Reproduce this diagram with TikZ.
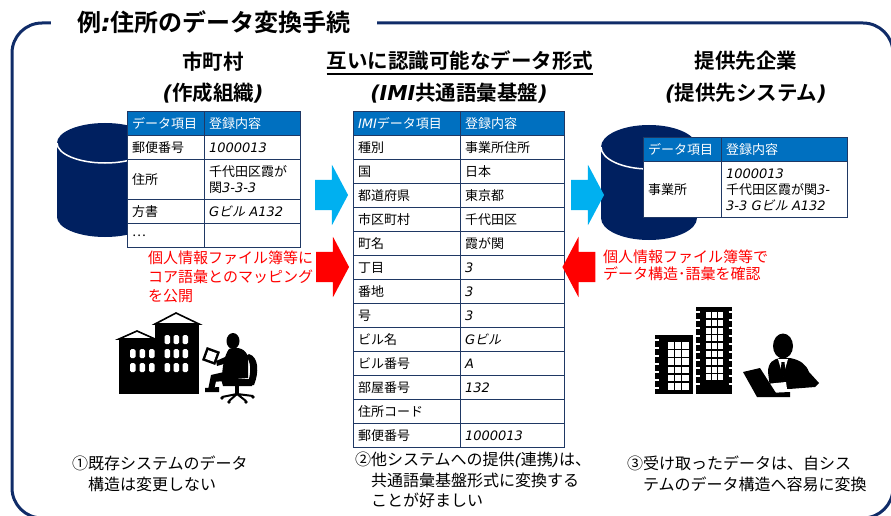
\documentclass[tikz,border=0pt]{standalone}
\usepackage{fontspec}
\setmainfont{Noto Sans CJK JP}[
  BoldFont={Noto Sans CJK JP Bold},
  ItalicFont={Noto Sans CJK JP},
  ItalicFeatures={FakeSlant=0.2},
  BoldItalicFont={Noto Sans CJK JP Bold},
  BoldItalicFeatures={FakeSlant=0.2}]
\newfontfamily\dvsans{DejaVu Sans}
\usetikzlibrary{shapes.arrows}

\definecolor{navy}{RGB}{0,32,96}
\definecolor{frameblue}{RGB}{16,44,104}
\definecolor{tblline}{RGB}{31,56,100}
\definecolor{hdrblue}{RGB}{0,112,192}
\definecolor{arrowblue}{RGB}{0,176,240}
\definecolor{arrowred}{RGB}{255,0,0}

% Latin text set in an oblique sans
\newcommand\lit[1]{{\dvsans\itshape #1}}
% table cell: style, name, x, y (north west), width, height, text
\newcommand\tcell[7]{%
  \pgfmathsetmacro\tcw{#5-9}%
  \node[#1, minimum width=#5pt, minimum height=#6pt, text width=\tcw pt] (#2) at (#3,#4) {#7};}

\begin{document}
\begin{tikzpicture}[x=1pt,y=-1pt,
  frame/.style={draw=frameblue, line width=3pt, rounded corners=30pt},
  ttl/.style={fill=white, inner xsep=26pt, inner ysep=2pt, font=\bfseries\fontsize{24}{28}\selectfont},
  hd/.style={font=\bfseries\fontsize{20.5}{24}\selectfont, inner sep=0pt},
  tcellbase/.style={rectangle, anchor=north west, draw=tblline, line width=1.1pt,
    inner xsep=4.5pt, inner ysep=0pt, align=left, font=\fontsize{13}{16}\selectfont},
  tbody/.style={tcellbase, fill=white, text=black},
  thead/.style={tcellbase, fill=hdrblue, text=white},
  redtxt/.style={anchor=west, inner sep=0pt, align=left, text=arrowred},
  btxt/.style={anchor=west, inner sep=0pt, align=left, font=\fontsize{16}{20.5}\selectfont},
  blkarrow/.style={single arrow, draw=none, minimum width=60pt, minimum height=33pt,
    single arrow head extend=15pt, single arrow tip angle=124, inner xsep=0pt, inner ysep=15pt},
  cyl/.style={fill=navy},
  cylrim/.style={draw=white, line width=1.5pt},
  win/.style={fill=white}
]
\useasboundingbox (0,0) rectangle (891,516);

% outer frame and title
\draw[frame] (12,23) rectangle (893,518);
\node[ttl] (title) at (214,22) {例\lit{:}住所のデータ変換手続};

% column headings
\node[hd] (h1a) at (213,62) {市町村};
\node[hd] (h1b) at (213,93) {\lit{(}作成組織\lit{)}};
\node[hd] (h2a) at (460,61) {互いに認識可能なデータ形式};
\draw[line width=1.4pt] ([yshift=-3pt]h2a.south west) -- ([yshift=-3pt]h2a.south east);
\node[hd] (h2b) at (459,93) {\lit{(IMI}共通語彙基盤\lit{)}};
\node[hd] (h3a) at (746,61) {提供先企業};
\node[hd] (h3b) at (746,93) {\lit{(}提供先システム\lit{)}};

% database cylinders
\fill[cyl] (57,143) -- (57,217) arc[start angle=180, end angle=0, x radius=48, y radius=20]
  -- (153,143) arc[start angle=0, end angle=-180, x radius=48, y radius=20] -- cycle;
\draw[cylrim] (57,143) arc[start angle=180, end angle=0, x radius=48, y radius=20];
\fill[cyl] (601,147) -- (601,218) arc[start angle=180, end angle=0, x radius=48, y radius=22]
  -- (697,147) arc[start angle=0, end angle=-180, x radius=48, y radius=22] -- cycle;
\draw[cylrim] (601,147) arc[start angle=180, end angle=0, x radius=48, y radius=22];

% municipality table
\tcell{thead}{La0}{127}{111}{77}{24}{データ項目}
\tcell{thead}{Lb0}{204}{111}{96}{24}{登録内容}
\tcell{tbody}{La1}{127}{135}{77}{24}{郵便番号}
\tcell{tbody}{Lb1}{204}{135}{96}{24}{\lit{1000013}}
\tcell{tbody}{La2}{127}{159}{77}{40}{住所}
\tcell{tbody}{Lb2}{204}{159}{96}{40}{千代田区霞が\\関\lit{3-3-3}}
\tcell{tbody}{La3}{127}{199}{77}{24}{方書}
\tcell{tbody}{Lb3}{204}{199}{96}{24}{\lit{G}{\itshape ビル} \lit{A132}}
\tcell{tbody}{La4}{127}{223}{77}{24}{…}
\tcell{tbody}{Lb4}{204}{223}{96}{24}{}

% common vocabulary table
\tcell{thead}{Ma0}{353}{111}{107}{24}{\lit{IMI}データ項目}
\tcell{thead}{Mb0}{460}{111}{104}{24}{登録内容}
\foreach \i/\a/\b in {1/種別/事業所住所, 2/国/日本, 3/都道府県/東京都, 4/市区町村/千代田区,
  5/町名/霞が関, 6/丁目/\lit{3}, 7/番地/\lit{3}, 8/号/\lit{3}, 9/ビル名/{\lit{G}{\itshape ビル}},
  10/ビル番号/\lit{A}, 11/部屋番号/\lit{132}, 12/住所コード/{}, 13/郵便番号/\lit{1000013}}{
  \pgfmathsetmacro\yy{111+24*\i}
  \tcell{tbody}{Ma\i}{353}{\yy}{107}{24}{\a}
  \tcell{tbody}{Mb\i}{460}{\yy}{104}{24}{\b}
}

% receiving company table
\tcell{thead}{Ra0}{643}{137}{78}{24}{データ項目}
\tcell{thead}{Rb0}{721}{137}{126}{24}{登録内容}
\tcell{tbody}{Ra1}{643}{161}{78}{56}{事業所}
\tcell{tbody}{Rb1}{721}{161}{126}{56}{\lit{1000013}\\千代田区霞が関\lit{3-}\\\lit{3-3 G}{\itshape ビル} \lit{A132}}

% red notes
\node[redtxt, font=\fontsize{15}{19}\selectfont] (n1) at (148,277) {個人情報ファイル簿等に\\コア語彙とのマッピング\\を公開};
\node[redtxt, font=\fontsize{15}{17.5}\selectfont] (n2) at (603,265.5) {個人情報ファイル簿等で\\データ構造･語彙を確認};

% block arrows
\node[blkarrow, fill=arrowblue] (a1) at (327.5,195) {};
\node[blkarrow, fill=arrowblue] (a2) at (583.5,195) {};
\node[blkarrow, fill=arrowred] (a3) at (328.5,267) {};
\node[blkarrow, fill=arrowred, shape border rotate=180] (a4) at (583,267) {};

% town hall
\fill (119,339) rectangle (156,394);
\fill (155,324) rectangle (199,394);
\draw[fill=white, line width=1.6pt, line join=miter] (119,339) -- (137,331) -- (155,339) -- cycle;
\draw[fill=white, line width=1.6pt, line join=miter] (155,324) -- (176,313) -- (199,324) -- cycle;
\foreach \x in {164.5,173.5,182.5}
  \foreach \y in {335,349,363}
    \fill[win, rounded corners=1.5pt] (\x,\y) rectangle (\x+5.5,\y+9);
\foreach \x in {130,139.5,149}
  \foreach \y in {349,363}
    \fill[win, rounded corners=1.5pt] (\x,\y) rectangle (\x+5.5,\y+9);

% clerk at a laptop
\fill (233,341) ellipse[x radius=6.5, y radius=8];
\fill (229,349) .. controls (238,346) and (246,349) .. (248,357) -- (248,378) -- (222,380)
  .. controls (222,368) and (224,356) .. (229,349) -- cycle;
\fill (232,354) -- (216,361) -- (217,366) -- (234,361) -- cycle;
\fill[rotate around={-20:(211,356)}] (204,349) rectangle (218,363);
\fill[white, rotate around={-20:(211,356)}] (206.5,351.5) rectangle (215.5,360.5);
\fill (224,372) -- (211,375) -- (211,382) -- (226,381) -- cycle;
\fill (211,375) -- (208,390) -- (214,390) -- (217,377) -- cycle;
\fill (205,388) -- (219,387) -- (219,392) -- (205,392) -- cycle;
\fill (249,354) .. controls (259,357) and (259,373) .. (254,385) -- (247,385)
  .. controls (252,372) and (251,362) .. (246,356) -- cycle;
\fill (221,379) -- (254,379) -- (252,386) -- (223,386) -- cycle;
\fill (235,386) rectangle (239,394);
\draw[line width=2pt] (237,394) -- (222,397) (237,394) -- (229,401) (237,394) -- (246,401) (237,394) -- (253,396);
\fill (222,398) circle (1.8) (229,402) circle (1.8) (246,402) circle (1.8) (253,397) circle (1.8);

% office towers
\fill (655,335) rectangle (693,394);
\fill (696,307) rectangle (732,394);
\foreach \c in {0,1,2}
  \foreach \r in {0,...,5}
    \fill[win] (668+7.1*\c,342+8.2*\r) rectangle (674.3+7.1*\c,348.6+8.2*\r);
\foreach \c in {0,1,2}
  \foreach \r in {0,...,8}
    \fill[win] (706+6*\c,312+7.8*\r) rectangle (711+6*\c,318+7.8*\r);
\foreach \y in {340,348,...,388}
  \draw[white, line width=1.1pt] (655,\y) -- (658.5,\y);
\foreach \y in {312,320,...,390}
  \draw[white, line width=1.1pt] (696,\y) -- (699.5,\y) (728.5,\y) -- (732,\y);

% businessman at a laptop
\fill (783,346) ellipse[x radius=10, y radius=12.5];
\fill (768,372) .. controls (768,362) and (774,359) .. (780,358) -- (790,358)
  .. controls (800,360) and (806,364) .. (809,372) -- (819,383) -- (815,387) -- (789,389) -- (770,388) -- cycle;
\fill[white] (778,359) -- (788,359) -- (783,376) -- cycle;
\fill (781.5,362) -- (784.5,362) -- (785.5,373) -- (783,377) -- (780.5,373) -- cycle;
\fill[white] (766,384) -- (786,382) -- (787,389) -- (768,391) -- cycle;
\fill (743,372) -- (760,368) -- (776,393) -- (757,397) -- cycle;
\fill (757,393.5) -- (790,392) -- (790,397) -- (757,397) -- cycle;

% captions
\node[btxt] (c1) at (72,474) {①既存システムのデータ\\　構造は変更しない};
\node[btxt] (c2) at (355,480) {②他システムへの提供\lit{(}連携\lit{)}は、\\　共通語彙基盤形式に変換する\\　ことが好ましい};
\node[btxt] (c3) at (627,474) {③受け取ったデータは、自シス\\　テムのデータ構造へ容易に変換};
\end{tikzpicture}
\end{document}
